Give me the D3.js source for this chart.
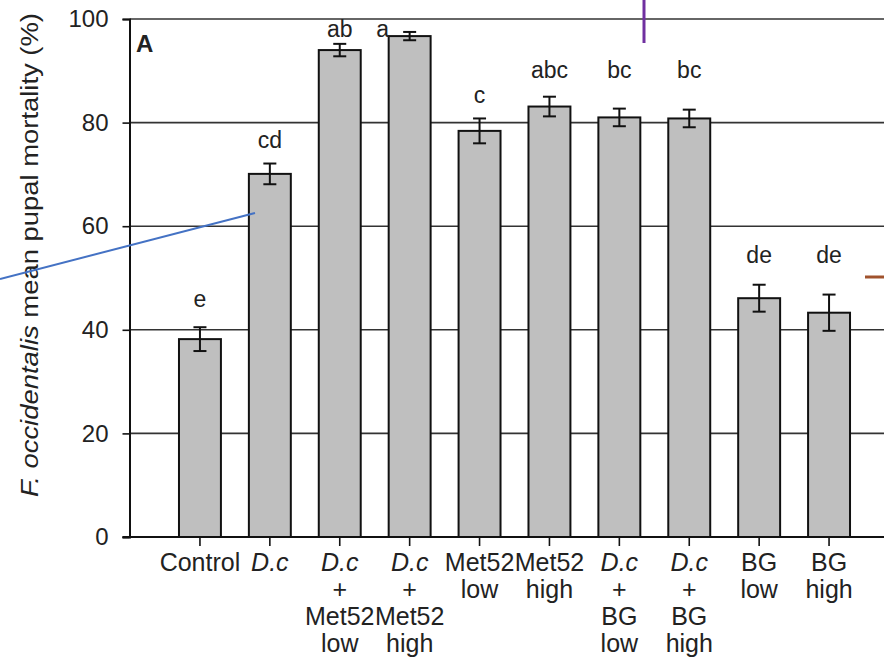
<!DOCTYPE html>
<html>
<head>
<meta charset="utf-8">
<script src="https://cdn.jsdelivr.net/npm/d3@7"></script>
<style>
  body { margin: 0; background: #fff; }
  svg text { font-family: Arial, "Liberation Sans", sans-serif; fill: #222; }
</style>
</head>
<body>
<svg id="chart" width="884" height="660"></svg>
<script>
// data
const categories = ["Control", "D.c", "D.c+Met52 low", "D.c+Met52 high", "Met52 low",
  "Met52 high", "D.c+BG low", "D.c+BG high", "BG low", "BG high"];
const labelLines = [
  ["Control"], ["D.c"], ["D.c", "+", "Met52", "low"], ["D.c", "+", "Met52", "high"],
  ["Met52", "low"], ["Met52", "high"], ["D.c", "+", "BG", "low"], ["D.c", "+", "BG", "high"],
  ["BG", "low"], ["BG", "high"]
];
const mortality = [38.2, 70.1, 94.0, 96.7, 78.4, 83.1, 81.0, 80.8, 46.1, 43.3];
const stdErr = [2.3, 2.0, 1.2, 0.8, 2.4, 1.9, 1.7, 1.7, 2.6, 3.5];
const letters = ["e", "cd", "ab", "a", "c", "abc", "bc", "bc", "de", "de"];
const letterAt = [44.4, 75.1, 96.5, 96.5, 83.8, 88.6, 88.6, 88.6, 52.9, 52.9]; // baseline in % units
const yTicks = [0, 20, 40, 60, 80, 100];

const svg = d3.select("#chart");
const plotLeft = 129.5, plotRight = 884;
const y = d3.scaleLinear().domain([0, 100]).range([537, 19]);
const x = d3.scaleBand().domain(categories).range([165, 864])
  .paddingInner(0.4).paddingOuter(0.2);

// gridlines
svg.append("g")
  .selectAll("line")
  .data(yTicks.filter((d) => d > 0))
  .enter()
  .append("line")
  .attr("x1", plotLeft).attr("x2", plotRight)
  .attr("y1", (d) => y(d)).attr("y2", (d) => y(d))
  .attr("stroke", "#333").attr("stroke-width", 1.6);

// y axis
const yAxis = svg.append("g")
  .attr("transform", `translate(${plotLeft},0)`)
  .call(d3.axisLeft(y).tickValues(yTicks).tickSize(7).tickPadding(14));
yAxis.select(".domain").attr("stroke", "#111").attr("stroke-width", 2);
yAxis.selectAll(".tick line").attr("stroke", "#111").attr("stroke-width", 1.6);
yAxis.selectAll(".tick text").style("font-size", "24px").attr("fill", "#222");

// bars
svg.append("g")
  .selectAll("rect")
  .data(mortality)
  .enter()
  .append("rect")
  .attr("x", (d, i) => x(categories[i]))
  .attr("y", (d) => y(d))
  .attr("width", x.bandwidth())
  .attr("height", (d) => y(0) - y(d))
  .attr("fill", "#bfbfbf")
  .attr("stroke", "#111")
  .attr("stroke-width", 2);

// error bars
const err = svg.append("g").attr("stroke", "#111").attr("stroke-width", 2);
mortality.forEach((m, i) => {
  const cx = x(categories[i]) + x.bandwidth() / 2;
  const top = y(m + stdErr[i]), bot = y(m - stdErr[i]);
  err.append("line").attr("x1", cx).attr("x2", cx).attr("y1", top).attr("y2", bot);
  err.append("line").attr("x1", cx - 6.5).attr("x2", cx + 6.5).attr("y1", top).attr("y2", top);
  err.append("line").attr("x1", cx - 6.5).attr("x2", cx + 6.5).attr("y1", bot).attr("y2", bot);
});

// significance letters
svg.append("g")
  .selectAll("text")
  .data(letters)
  .enter()
  .append("text")
  .attr("x", (d, i) => x(categories[i]) + x.bandwidth() / 2 + (d === "a" ? -27 : 0))
  .attr("y", (d, i) => y(letterAt[i]))
  .attr("text-anchor", "middle")
  .style("font-size", "23px")
  .text((d) => d);

// x axis
const xAxis = svg.append("g")
  .attr("transform", `translate(0,${y(0)})`)
  .call(d3.axisBottom(x).tickSize(9).tickFormat(""));
xAxis.select(".domain").remove();
xAxis.selectAll(".tick line").attr("stroke", "#111").attr("stroke-width", 1.6);
svg.append("line")
  .attr("x1", plotLeft - 7).attr("x2", plotRight)
  .attr("y1", y(0)).attr("y2", y(0))
  .attr("stroke", "#111").attr("stroke-width", 2);

const catLabels = svg.append("g")
  .selectAll("text")
  .data(labelLines)
  .enter()
  .append("text")
  .attr("text-anchor", "middle")
  .attr("transform", (d, i) => `translate(${x(categories[i]) + x.bandwidth() / 2},0)`)
  .style("font-size", "25px");
catLabels.selectAll("tspan")
  .data((d) => d)
  .enter()
  .append("tspan")
  .attr("x", 0)
  .attr("y", (d, j) => 571 + j * 27)
  .style("font-style", (d) => (d === "D.c" ? "italic" : "normal"))
  .text((d) => d);

// panel letter
svg.append("text")
  .attr("x", 136).attr("y", 52)
  .style("font-size", "24px").style("font-weight", "bold")
  .attr("fill", "#111")
  .text("A");

// y axis title
const yTitle = svg.append("text")
  .attr("transform", "translate(38,255) rotate(-90)")
  .attr("text-anchor", "middle")
  .attr("textLength", 484)
  .attr("lengthAdjust", "spacingAndGlyphs")
  .style("font-size", "23px");
yTitle.append("tspan").style("font-style", "italic").text("F. occidentalis");
yTitle.append("tspan").text(" mean pupal mortality (%)");

// overlaid annotation strokes from the source slide
svg.append("line").attr("x1", 0).attr("y1", 279).attr("x2", 255).attr("y2", 213)
  .attr("stroke", "#4472c4").attr("stroke-width", 2);
svg.append("line").attr("x1", 644).attr("y1", 0).attr("x2", 644).attr("y2", 43)
  .attr("stroke", "#7030a0").attr("stroke-width", 3);
svg.append("line").attr("x1", 865).attr("y1", 277).attr("x2", 884).attr("y2", 277)
  .attr("stroke", "#a0522d").attr("stroke-width", 3);
</script>
</body>
</html>
